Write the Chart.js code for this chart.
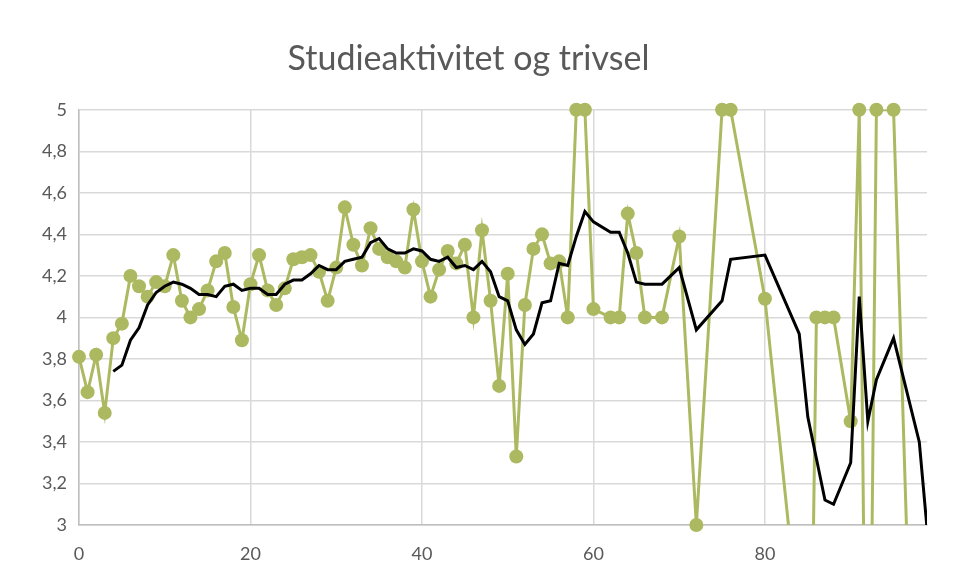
<!DOCTYPE html>
<html>
  <head>
    <title>Studieaktivitet og trivsel</title>
    <script src="https://cdn.jsdelivr.net/npm/chart.js@4.4.0/dist/chart.umd.min.js"></script>
    <style>
        body { margin: 0; background: #ffffff; }
        .chart-box { width: 955px; height: 581px; position: relative; }
    </style>
  </head>
  <body>
    <div class="chart-box">
        <canvas id="trivselChart"></canvas>
    </div>
    <script>
      // data
      var xValues = [0,1,2,3,4,5,6,7,8,9,10,11,12,13,14,15,16,17,18,19,20,21,22,23,24,25,26,27,28,29,
        30,31,32,33,34,35,36,37,38,39,40,41,42,43,44,45,46,47,48,49,50,51,52,53,54,55,56,57,58,59,
        60,62,63,64,65,66,68,70,72,75,76,80,84,85,86,87,88,90,91,92,93,95,98,99];
      var trivsel = [3.81,3.64,3.82,3.54,3.90,3.97,4.20,4.15,4.10,4.17,4.15,4.30,4.08,4.00,4.04,4.13,4.27,4.31,4.05,3.89,
        4.16,4.30,4.13,4.06,4.14,4.28,4.29,4.30,4.22,4.08,4.24,4.53,4.35,4.25,4.43,4.33,4.29,4.27,4.24,4.52,
        4.27,4.10,4.23,4.32,4.26,4.35,4.00,4.42,4.08,3.67,4.21,3.33,4.06,4.33,4.40,4.26,4.27,4.00,5.00,5.00,
        4.04,4.00,4.00,4.50,4.31,4.00,4.00,4.39,3.00,5.00,5.00,4.09,2.50,1.00,4.00,4.00,4.00,3.50,5.00,1.00,
        5.00,5.00,1.00,2.70];
      // black line (5 point moving average), starts at x = 4
      var snittX = xValues.slice(4);
      var snitt = [3.74,3.77,3.89,3.95,4.06,4.12,4.15,4.17,4.16,4.14,4.11,4.11,4.10,4.15,4.16,4.13,
        4.14,4.14,4.11,4.11,4.16,4.18,4.18,4.21,4.25,4.23,4.23,4.27,4.28,4.29,4.36,4.38,4.33,4.31,4.31,4.33,
        4.32,4.28,4.27,4.29,4.24,4.25,4.23,4.27,4.22,4.10,4.08,3.94,3.87,3.92,4.07,4.08,4.26,4.25,4.39,4.51,
        4.46,4.41,4.41,4.31,4.17,4.16,4.16,4.24,3.94,4.08,4.28,4.30,3.92,3.52,3.32,3.12,3.10,3.30,4.10,3.50,
        3.70,3.90,3.40,2.94];
      var xTicks = [0, 20, 40, 60, 80];

      function toPoints(xs, ys) {
        var pts = [];
        for (var i = 0; i < ys.length; i++) {
          pts.push({x: xs[i], y: ys[i]});
        }
        return pts;
      }

      var green = "#adb961";
      var tickFont = {family: "Lato, 'Open Sans', sans-serif", size: 18};

      var ctx = document.getElementById("trivselChart").getContext("2d");
      var trivselChart = new Chart(ctx, {
        type: "scatter",
        data: {
          datasets: [
            {
              label: "Glidende gjennomsnitt",
              data: toPoints(snittX, snitt),
              showLine: true,
              borderColor: "#000000",
              borderWidth: 3,
              pointRadius: 0,
              tension: 0
            },
            {
              label: "Trivsel",
              data: toPoints(xValues, trivsel),
              showLine: false,
              backgroundColor: green,
              borderColor: green,
              pointRadius: function(c) { return c.raw && c.raw.y < 3 ? 0 : 7; },
              pointBorderWidth: 0,
              clip: false
            },
            {
              label: "Trivsel linje",
              data: toPoints(xValues, trivsel),
              showLine: true,
              borderColor: green,
              borderWidth: 3,
              pointRadius: 0,
              tension: 0
            }
          ]
        },
        options: {
          responsive: true,
          maintainAspectRatio: false,
          animation: false,
          devicePixelRatio: 1,
          layout: {
            padding: {left: 10, right: 28, top: 0, bottom: 10}
          },
          plugins: {
            legend: { display: false },
            tooltip: { enabled: false },
            title: {
              display: true,
              text: "Studieaktivitet og trivsel",
              color: "#595959",
              font: {family: "Lato, 'Open Sans', sans-serif", size: 34, weight: "normal"},
              padding: {top: 39, bottom: 30}
            }
          },
          scales: {
            x: {
              type: "linear",
              min: 0,
              max: 98.9,
              afterBuildTicks: function(scale) {
                scale.ticks = xTicks.map(function(v) { return {value: v}; });
              },
              afterFit: function(scale) { scale.height = 46; },
              grid: { color: "#d9d9d9", lineWidth: 1.5, drawTicks: false },
              border: { color: "#bfbfbf", width: 1.5 },
              ticks: { color: "#595959", font: tickFont, padding: 18, maxRotation: 0 }
            },
            y: {
              min: 3,
              max: 5,
              afterFit: function(scale) { scale.width = 69; },
              grid: { color: "#d9d9d9", lineWidth: 1.5, drawTicks: false },
              border: { color: "#bfbfbf", width: 1.5 },
              ticks: {
                stepSize: 0.2,
                color: "#595959",
                font: tickFont,
                padding: 12,
                callback: function(v) { return String(Math.round(v * 10) / 10).replace(".", ","); }
              }
            }
          }
        }
      });
    </script>
  </body>
</html>
